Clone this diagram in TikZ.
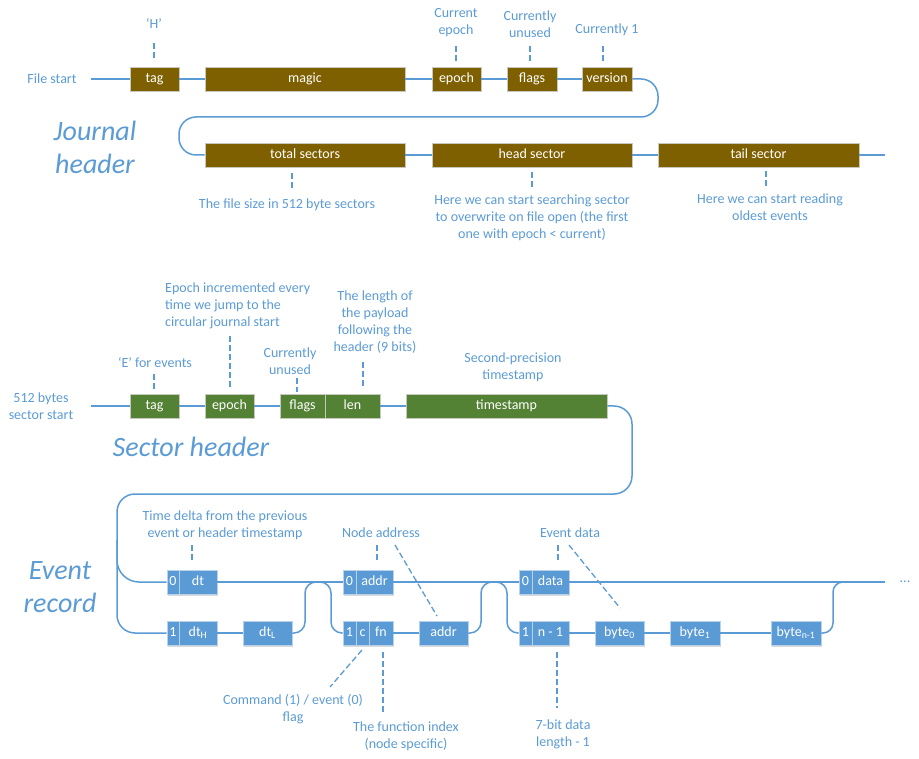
\documentclass[tikz,border=0pt]{standalone}
\usepackage{fontspec}
\setmainfont{Carlito}
\usetikzlibrary{shadows}
\definecolor{brownc}{RGB}{127,96,0}
\definecolor{greenc}{RGB}{84,130,53}
\definecolor{bluec}{RGB}{91,155,213}
\definecolor{edgec}{RGB}{200,200,190}
\definecolor{bedgec}{RGB}{185,210,235}
\newcommand\nf{\fontsize{14}{17}\selectfont}
\newcommand\tf{\fontsize{28}{33}\selectfont\itshape}
\begin{document}
\begin{tikzpicture}[x=1pt,y=-1pt,
  bx/.style={rectangle, minimum height=24pt, inner sep=0pt, text=white, line width=0.7pt,
    font=\nf, text height=9.5pt, text depth=2.5pt,
    drop shadow={shadow xshift=1pt, shadow yshift=-1.5pt, opacity=0.15, fill=black}},
  jb/.style={bx, fill=brownc, draw=edgec},
  sb/.style={bx, fill=greenc, draw=edgec},
  eb/.style={bx, fill=bluec, draw=bedgec},
  ann/.style={text=bluec, font=\nf, align=center, inner sep=0pt},
  ttl/.style={text=bluec, font=\tf, align=center, inner sep=0pt},
  wire/.style={draw=bluec, line width=1.5pt},
  dl/.style={draw=bluec, line width=1.3pt, dash pattern=on 6pt off 3pt}]
\useasboundingbox (0,0) rectangle (919,759);

% ---------------- Journal header ----------------
\node[ann] (lfs) at (52,78.5) {File start};
\coordinate (jstart) at (91,79);
\node[jb, minimum width=49pt] (jtag) at (154.5,79) {tag};
\node[jb, minimum width=200pt] (jmagic) at (305,79) {magic};
\node[jb, minimum width=49pt] (jepoch) at (456.5,79) {epoch};
\node[jb, minimum width=50pt] (jflags) at (532,79) {flags};
\node[jb, minimum width=50pt] (jver) at (607,79) {version};
\node[jb, minimum width=200pt] (jtotal) at (305,155) {total sectors};
\node[jb, minimum width=200pt] (jhead) at (532,155) {head sector};
\node[jb, minimum width=201pt] (jtail) at (758.5,155) {tail sector};
\coordinate (jend) at (885,155);

\draw[wire] (jstart) -- (jtag.west);
\draw[wire] (jtag.east) -- (jmagic.west);
\draw[wire] (jmagic.east) -- (jepoch.west);
\draw[wire] (jepoch.east) -- (jflags.west);
\draw[wire] (jflags.east) -- (jver.west);
\draw[wire, rounded corners=17] (jver.east) -- (658,79) -- (658,117) -- (179,117) -- (179,155) -- (jtotal.west);
\draw[wire] (jtotal.east) -- (jhead.west);
\draw[wire] (jhead.east) -- (jtail.west);
\draw[wire] (jtail.east) -- (jend);

\node[ttl] (tjh) at (95,147) {Journal\\header};

\node[ann] (aH) at (154,23.5) {‘H’};
\draw[dl] (154,43) -- (154,61);
\node[ann] (aep) at (456,23) {Current\\epoch};
\draw[dl] (456,46) -- (456,62);
\node[ann] (afl) at (530,24) {Currently\\unused};
\draw[dl] (530,46) -- (530,62);
\node[ann] (ave) at (607,29.5) {Currently 1};
\draw[dl] (603,46) -- (603,62);
\node[ann] (ats) at (287,204.5) {The file size in 512 byte sectors};
\draw[dl] (292,173) -- (292,190);
\node[ann] (ahs) at (532,217.5) {Here we can start searching sector\\to overwrite on file open (the first\\one with epoch < current)};
\draw[dl] (532,172) -- (532,189);
\node[ann] (atl) at (770,207) {Here we can start reading\\oldest events};
\draw[dl] (766,171) -- (766,187);

% ---------------- Sector header ----------------
\node[ann] (lss) at (41,406.5) {512 bytes\\sector start};
\coordinate (sstart) at (91,406);
\node[sb, minimum width=49pt] (stag) at (154.5,406) {tag};
\node[sb, minimum width=49pt] (sepoch) at (229.5,406) {epoch};
\node[sb, minimum width=45pt] (sflags) at (302.5,406) {flags};
\node[sb, minimum width=55pt] (slen) at (352.5,406) {len};
\node[sb, minimum width=201pt] (sts) at (506.5,406) {timestamp};

\draw[wire] (sstart) -- (stag.west);
\draw[wire] (stag.east) -- (sepoch.west);
\draw[wire] (sepoch.east) -- (sflags.west);
\draw[wire] (slen.east) -- (sts.west);

\node[ttl] (tsh) at (191,446.5) {Sector header};

\node[ann] (aE) at (155,362.5) {‘E’ for events};
\draw[dl] (154,374) -- (154,391);
\node[ann, anchor=west, align=left] (aei) at (165,305.5) {Epoch incremented every\\time we jump to the\\circular journal start};
\draw[dl] (230,336) -- (230,387);
\node[ann] (asu) at (290,361) {Currently\\unused};
\draw[dl] (297,378) -- (297,392);
\node[ann] (aln) at (375,322) {The length of\\the payload\\following the\\header (9 bits)};
\draw[dl] (363,362) -- (363,388);
\node[ann] (asp) at (513,367) {Second-precision\\timestamp};

% ---------------- Event record ----------------
\node[ttl] (ter) at (60,587) {Event\\record};

% row A
\node[eb, minimum width=12pt] (a0) at (173,582) {0};
\node[eb, minimum width=38pt] (adt) at (198,582) {dt};
\node[eb, minimum width=13pt] (c0) at (349.5,582) {0};
\node[eb, minimum width=37pt] (caddr) at (374.5,582) {addr};
\node[eb, minimum width=13pt] (d0) at (525.5,582) {0};
\node[eb, minimum width=37pt] (ddata) at (550.5,582) {data};
\coordinate (eend) at (885,582);
\node[ann] (dots) at (905,581.5) {...};

% row B
\node[eb, minimum width=12pt] (b1) at (173,633) {1};
\node[eb, minimum width=38pt] (bdth) at (198,633) {dt\textsubscript{H}};
\node[eb, minimum width=49pt] (bdtl) at (267.5,633) {dt\textsubscript{L}};
\node[eb, minimum width=13pt] (f1) at (349.5,633) {1};
\node[eb, minimum width=13pt] (fc) at (362.5,633) {c};
\node[eb, minimum width=24pt] (ffn) at (381,633) {fn};
\node[eb, minimum width=49pt] (faddr) at (443.5,633) {addr};
\node[eb, minimum width=13pt] (g1) at (525.5,633) {1};
\node[eb, minimum width=37pt] (gn) at (550.5,633) {n - 1};
\node[eb, minimum width=49pt] (by0) at (619.5,633) {byte\textsubscript{0}};
\node[eb, minimum width=50pt] (by1) at (695,633) {byte\textsubscript{1}};
\node[eb, minimum width=50pt] (byn) at (796,633) {byte\textsubscript{n-1}};

% wires
\draw[wire, rounded corners=18] (sts.east) -- (632,406) -- (632,494) -- (117,494) -- (117,633) -- (b1.west);
\draw[wire, rounded corners=22] (117,540) -- (117,582) -- (a0.west);
\draw[wire] (adt.east) -- (c0.west);
\draw[wire] (caddr.east) -- (d0.west);
\draw[wire] (ddata.east) -- (eend);
\draw[wire] (bdth.east) -- (bdtl.west);
\draw[wire, rounded corners=11] (bdtl.east) -- (305,633) -- (305,582) -- (331,582) -- (331,633) -- (f1.west);
\draw[wire] (ffn.east) -- (faddr.west);
\draw[wire, rounded corners=11] (faddr.east) -- (481,633) -- (481,582) -- (507,582) -- (507,633) -- (g1.west);
\draw[wire] (gn.east) -- (by0.west);
\draw[wire] (by0.east) -- (by1.west);
\draw[wire] (by1.east) -- (byn.west);
\draw[wire, rounded corners=10] (byn.east) -- (833,633) -- (833,582) -- (865,582);

% annotations
\node[ann] (atd) at (225,525) {Time delta from the previous\\event or header timestamp};
\draw[dl] (192,545) -- (192,562);
\node[ann] (ana) at (381,532.5) {Node address};
\draw[dl] (377,545) -- (377,562);
\draw[dl] (395,545) -- (437,616);
\node[ann] (aed) at (570,532.5) {Event data};
\draw[dl] (558,545) -- (558,562);
\draw[dl] (569,545) -- (620,608);
\node[ann] (acm) at (293,709) {Command (1) / event (0)\\flag};
\draw[dl] (362,650) -- (330,687);
\node[ann] (afi) at (406,736) {The function index\\(node specific)};
\draw[dl] (383,652) -- (383,712);
\node[ann] (a7b) at (563,734) {7-bit data\\length - 1};
\draw[dl] (557,652) -- (557,708);
\end{tikzpicture}
\end{document}
